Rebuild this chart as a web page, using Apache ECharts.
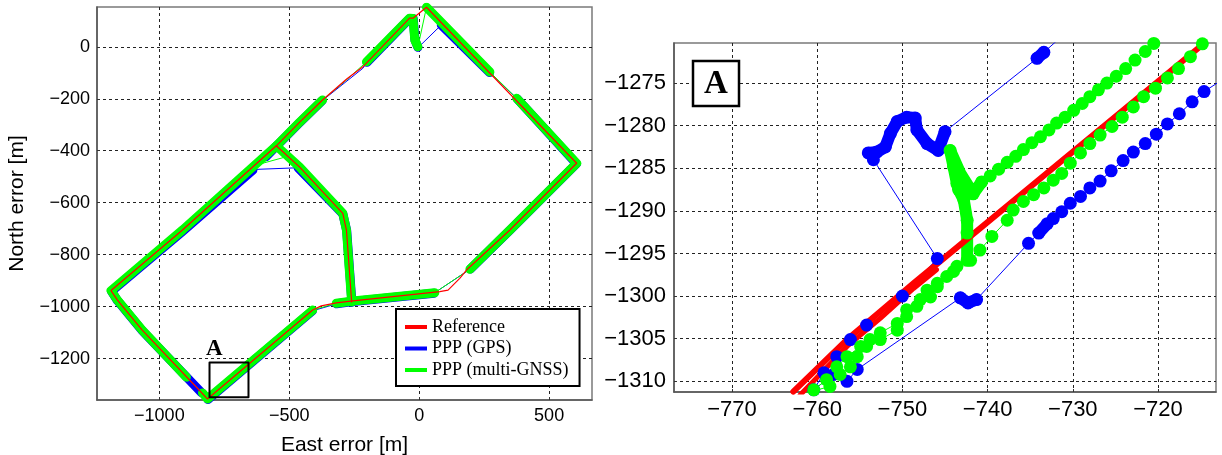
<!DOCTYPE html>
<html>
<head>
<meta charset="utf-8">
<script src="https://cdn.jsdelivr.net/npm/echarts@6/dist/echarts.min.js"></script>
<style>
html,body{margin:0;padding:0;background:#fff}
#main{width:1222px;height:455px}
</style>
</head>
<body>
<div id="main"></div>
<script>
// ---------- overview (left) ----------
var ovXTicks = [-1000, -500, 0, 500];
var ovYTicks = [-1200, -1000, -800, -600, -400, -200, 0];

// reference trajectory
var refLoop = [[28,152],[606,-448],[349,-705],[182,-859],[156,-891],[111,-936],[79,-942],[-255,-978],[-319,-985],[-377,-997],[-410,-1013],[-815,-1355],[-859,-1308],[-1066,-1090],[-1162,-974],[-1186,-938],[-911,-705],[-550,-381],[-460,-290],[-372,-205],[-279,-124],[-218,-78],[-37,110],[-24,110],[28,152]];
var refInner = [[-550,-381],[-460,-463],[-294,-641],[-280,-705],[-260,-982]];

// PPP (GPS) - dense marker parts and thin joins
var gpsThick = [
  [[85,84],[271,-99]],
  [[377,-200],[605,-450],[348,-707],[197,-855]],
  [[57,-948],[-255,-980],[-318,-989]],
  [[-411,-1016],[-813,-1357]],
  [[-838,-1331],[-1066,-1092],[-1161,-977],[-1184,-941],[-909,-709],[-640,-475]],
  [[-590,-423],[-461,-293],[-374,-208]],
  [[-466,-466],[-294,-643],[-279,-707],[-259,-983]],
  [[-217,-83],[-216,-82]],
  [[-201,-60],[-37,108],[-23,108],[-16,25],[-5,-2]]
];
var gpsThin = [
  [[-3,-2],[85,84]],
  [[271,-99],[377,-200]],
  [[197,-855],[57,-948]],
  [[-318,-989],[-411,-1016]],
  [[-813,-1357],[-838,-1331]],
  [[-634,-472],[-480,-466],[-466,-466]],
  [[-374,-208],[-217,-83],[-201,-60]]
];

// PPP (multi-GNSS)
var gnssThick = [
  [[28,152],[272,-97]],
  [[375,-198],[606,-448],[349,-705],[195,-856]],
  [[60,-946],[-255,-978],[-319,-987]],
  [[-410,-1013],[-815,-1355],[-834,-1332]],
  [[-896,-1271],[-1066,-1090],[-1162,-974],[-1186,-938],[-911,-705],[-550,-381],[-460,-290],[-372,-205]],
  [[-280,-128],[-279,-126]],
  [[-203,-58],[-37,110],[-24,109],[-17,26],[-5,0]],
  [[-550,-381],[-460,-463],[-294,-641],[-280,-705],[-260,-982]]
];
var gnssThin = [
  [[272,-97],[375,-198]],
  [[195,-856],[60,-946]],
  [[-319,-987],[-410,-1013]],
  [[-834,-1332],[-896,-1271]],
  [[-372,-205],[-280,-128],[-203,-58]],
  [[-3,8],[28,152]],
  [[-627,-455],[-518,-425]]
];

var boxA = [[-807,-1215],[-657,-1215],[-657,-1348],[-807,-1348],[-807,-1215]];

// ---------- zoom A (right) ----------
var zmXTicks = [-770, -760, -750, -740, -730, -720];
var zmYTicks = [-1310, -1305, -1300, -1295, -1290, -1285, -1280, -1275];

var zmRefMain = [[-762.8,-1311.2],[-756.5,-1305.1],[-752.6,-1301.8],[-748.7,-1298.5],[-714.8,-1270.5]];
var zmRefInner = [[-762.0,-1311.6],[-756.5,-1305.9],[-752.6,-1302.6],[-748.7,-1299.1],[-746.0,-1296.9]];

var zmGps = [[-730.5,-1268.8],[-733.4,-1271.4],[-734.2,-1272.1],[-745.0,-1280.7],[-745.8,-1282.9],[-747.1,-1282.1],[-748.3,-1280.5],
  [-748.5,-1279.1],[-749.5,-1279.0],[-750.6,-1279.5],[-751.4,-1280.9],[-752.0,-1282.5],[-753.0,-1283.1],[-754.0,-1283.2],[-753.4,-1284.0],
  [-745.9,-1295.6],[-750.0,-1300.0],[-754.2,-1303.4],[-756.1,-1305.1],[-757.7,-1307.1],[-759.2,-1309.0],[-760.4,-1311.0],[-758.1,-1309.2],
  [-756.5,-1310.0],[-755.3,-1308.6],[-743.2,-1300.2],[-742.3,-1300.8],[-741.3,-1300.4],[-735.2,-1293.8],[-734.0,-1292.6],[-733.0,-1291.5],
  [-732.3,-1290.9],[-731.3,-1290.1],[-730.3,-1289.1],[-729.1,-1288.3],[-728.0,-1287.3],[-726.8,-1286.5],[-725.5,-1285.3],[-724.1,-1284.1],
  [-722.9,-1283.1],[-721.5,-1282.1],[-720.2,-1281.0],[-718.9,-1279.8],[-717.5,-1278.6],[-716.0,-1277.2],[-714.6,-1276.0],[-712.9,-1274.9]];
var zmGpsBlobs = [
  [[-745.0,-1280.7],[-745.8,-1282.9],[-747.1,-1282.1],[-748.3,-1280.5],[-748.5,-1279.1],[-749.5,-1279.0],[-750.6,-1279.5],[-751.4,-1280.9],[-752.0,-1282.5],[-753.0,-1283.1],[-754.0,-1283.2]],
  [[-743.2,-1300.2],[-742.3,-1300.8],[-741.3,-1300.4]],
  [[-734.0,-1292.6],[-733.0,-1291.5]],
  [[-733.4,-1271.4],[-734.2,-1272.1]]
];

var zmGnss = [[-714.8,-1270.4],[-716.2,-1271.9],[-717.6,-1273.3],[-718.9,-1274.4],[-720.3,-1275.6],[-721.7,-1276.6],[-722.9,-1277.8],
  [-724.2,-1279.0],[-725.4,-1280.1],[-726.8,-1281.1],[-728.0,-1282.1],[-729.1,-1283.2],[-730.3,-1284.4],[-731.3,-1285.6],[-732.3,-1286.4],
  [-733.4,-1287.3],[-734.6,-1288.1],[-735.8,-1288.9],[-737.0,-1289.9],[-737.7,-1291.1],[-739.5,-1293.0],[-740.9,-1294.6],[-742.0,-1295.8],
  [-743.6,-1296.5],[-744.8,-1297.7],[-745.9,-1298.5],[-747.1,-1299.3],[-747.9,-1300.4],[-749.5,-1301.6],[-750.6,-1303.2],[-752.6,-1304.3],
  [-753.8,-1305.1],[-754.9,-1305.9],[-756.5,-1307.1],[-757.7,-1308.3],[-758.9,-1309.8],[-760.4,-1311.0],[-761.5,-1311.4],
  [-758.5,-1310.6],[-757.3,-1309.2],[-756.1,-1308.3],[-755.3,-1307.1],[-754.2,-1305.9],[-752.6,-1305.1],[-750.6,-1304.0],[-749.5,-1302.4],
  [-748.3,-1301.2],[-746.7,-1300.1],[-745.9,-1298.9],[-744.0,-1297.1],[-742.4,-1295.8],[-742.4,-1292.6],[-742.4,-1291.1],[-742.8,-1288.7],
  [-743.4,-1287.5],[-743.6,-1286.8],[-744.0,-1284.8],[-744.4,-1282.9],[-741.7,-1288.0],[-740.7,-1286.6],[-739.7,-1285.9],[-738.7,-1285.1],
  [-737.7,-1284.3],[-736.7,-1283.6],[-735.8,-1282.8],[-734.8,-1282.0],[-733.8,-1281.3],[-732.8,-1280.5],[-731.9,-1279.7],[-730.9,-1279.0],
  [-729.9,-1278.2],[-728.9,-1277.4],[-728.0,-1276.6],[-727.0,-1275.8],[-726.0,-1275.0],[-724.9,-1274.2],[-723.8,-1273.3],[-722.7,-1272.3],
  [-721.5,-1271.3],[-720.5,-1270.35],[-719.5,-1269.5]];
var zmGnssDense = [[-742.4,-1295.8],[-742.4,-1292.6],[-742.4,-1291.1],[-742.8,-1288.7],[-743.4,-1287.5],[-743.6,-1286.8],[-744.0,-1284.8],
  [-744.4,-1282.9],[-743.2,-1285.6],[-741.7,-1288.0],[-740.7,-1286.6]];

var BLUE = '#0000ff', GREEN = '#00ff00', RED = '#ff0000';
var NAMES = ['Reference', 'PPP (GPS)', 'PPP (multi-GNSS)'];

function lineSeries(name, data, color, width, gi, sym) {
  return {
    type: 'line', name: name, xAxisIndex: gi, yAxisIndex: gi, data: data,
    symbol: sym ? 'circle' : 'none', symbolSize: sym || 0, showSymbol: !!sym,
    lineStyle: { color: color, width: width, cap: 'round', join: 'round' },
    itemStyle: { color: color, borderWidth: 0 },
    silent: true, animation: false
  };
}

var series = [];
gpsThin.forEach(function (s) { series.push(lineSeries(NAMES[1], s, BLUE, 1, 0)); });
gpsThick.forEach(function (s) { series.push(lineSeries(NAMES[1], s, BLUE, 9, 0)); });
gnssThin.forEach(function (s) { series.push(lineSeries(NAMES[2], s, GREEN, 1, 0)); });
gnssThick.forEach(function (s) { series.push(lineSeries(NAMES[2], s, GREEN, 9, 0)); });
series.push(lineSeries(NAMES[0], refLoop, RED, 1.2, 0));
series.push(lineSeries(NAMES[0], refInner, RED, 1.2, 0));
series.push(lineSeries('boxA', boxA, '#000', 2, 0));

series.push(lineSeries(NAMES[1], zmGps, BLUE, 1, 1, 13));
zmGpsBlobs.forEach(function (s) { series.push(lineSeries(NAMES[1], s, BLUE, 12, 1)); });
series.push(lineSeries(NAMES[2], zmGnss, GREEN, 1, 1, 13));
series.push(lineSeries(NAMES[2], zmGnssDense, GREEN, 12, 1));
series.push(lineSeries(NAMES[0], zmRefMain, RED, 6, 1));
series.push(lineSeries(NAMES[0], zmRefInner, RED, 5, 1));

function fmt(v) { return String(v).replace('-', '\u2212'); }

function valAxis(min, max, ticks, fontSize, margin, extra) {
  var a = {
    type: 'value', min: min, max: max, scale: true,
    axisLine: { show: true, onZero: false, lineStyle: { color: '#555', width: 1.5 } },
    axisTick: { show: true, inside: true, length: 3, customValues: ticks, lineStyle: { color: '#333' } },
    axisLabel: { customValues: ticks, formatter: fmt, color: '#000', fontFamily: 'Liberation Sans', fontSize: fontSize, margin: margin },
    splitLine: { show: true, lineStyle: { color: '#222', type: [3, 3], width: 1 } }
  };
  for (var k in extra) a[k] = extra[k];
  return a;
}

var chart = echarts.init(document.getElementById('main'), null, { renderer: 'canvas' });
chart.setOption({
  backgroundColor: '#fff',
  animation: false,
  grid: [
    { left: 97, top: 7, width: 495, height: 393, containLabel: false, outerBoundsMode: 'none',
      show: true, borderColor: '#7a7a7a', borderWidth: 1.5, backgroundColor: '#fff' },
    { left: 674, top: 43, width: 542, height: 349, containLabel: false, outerBoundsMode: 'none',
      show: true, borderColor: '#7a7a7a', borderWidth: 1.5, backgroundColor: '#fff' }
  ],
  xAxis: [
    valAxis(-1240, 665, ovXTicks, 18, 7, { gridIndex: 0, name: 'East error [m]', nameLocation: 'middle', nameGap: 35,
      nameTextStyle: { fontFamily: 'Liberation Sans', fontSize: 21, color: '#000' } }),
    valAxis(-776.8, -713.2, zmXTicks, 22, 7, { gridIndex: 1 })
  ],
  yAxis: [
    valAxis(-1359, 153, ovYTicks, 18, 7, { gridIndex: 0, name: 'North error [m]', nameLocation: 'middle', nameGap: 69, nameRotate: 90,
      nameTextStyle: { fontFamily: 'Liberation Sans', fontSize: 21, color: '#000' } }),
    valAxis(-1311.25, -1270.3, zmYTicks, 22, 8, { gridIndex: 1 })
  ],
  legend: {
    left: 396, top: 309, orient: 'vertical',
    itemWidth: 22, itemHeight: 4, itemGap: 3.5,
    padding: [9, 11, 7, 9],
    borderColor: '#000', borderWidth: 2, backgroundColor: '#fff',
    textStyle: { fontFamily: 'Liberation Serif', fontSize: 18, color: '#000' },
    selectedMode: false,
    data: [
      { name: NAMES[0], icon: 'rect', itemStyle: { color: RED } },
      { name: NAMES[1], icon: 'rect', itemStyle: { color: BLUE } },
      { name: NAMES[2], icon: 'rect', itemStyle: { color: GREEN } }
    ]
  },
  graphic: [
    { type: 'text', left: 206, top: 338, style: { text: 'A', font: 'bold 23px "Liberation Serif"', fill: '#000' }, z: 100 },
    { type: 'rect', shape: { x: 693, y: 61, width: 46, height: 45 }, style: { fill: '#fff', stroke: '#000', lineWidth: 2.5 }, z: 100 },
    { type: 'text', x: 716, y: 84, style: { text: 'A', font: 'bold 33px "Liberation Serif"', fill: '#000', align: 'center', verticalAlign: 'middle' }, z: 101 }
  ],
  series: series
});
</script>
</body>
</html>
